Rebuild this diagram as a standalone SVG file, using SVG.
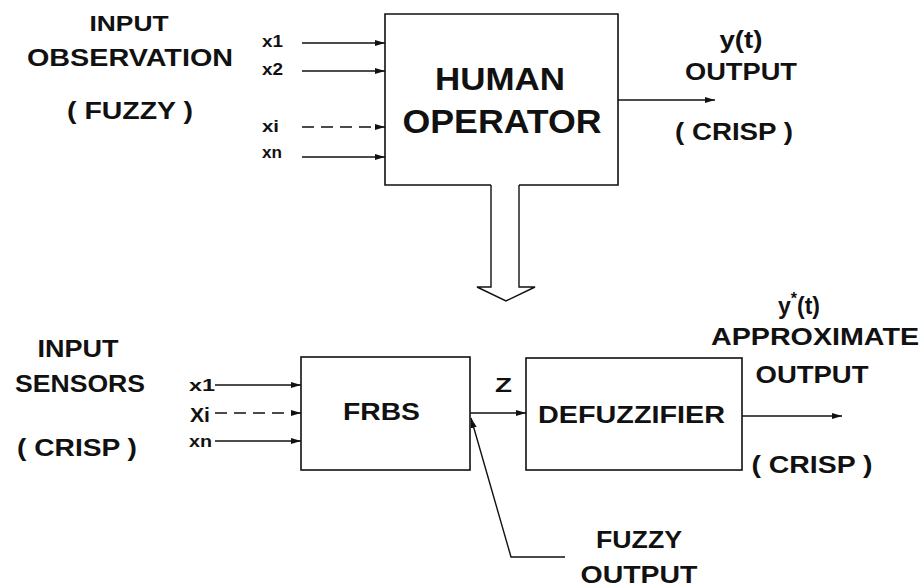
<svg xmlns="http://www.w3.org/2000/svg" width="923" height="588" viewBox="0 0 923 588">
<defs>
<marker id="ah" markerWidth="11" markerHeight="8" refX="10" refY="4" orient="auto" markerUnits="userSpaceOnUse">
<path d="M0,1 L10,4 L0,7 Z" fill="#111"/>
</marker>
<style>
.t{font-family:"Liberation Sans",Arial,sans-serif;font-weight:bold;fill:#111}
.box{fill:none;stroke:#111;stroke-width:1.6}
.ln{fill:none;stroke:#111;stroke-width:1.4}
.dash{stroke-dasharray:12,7}
</style>
</defs>
<rect width="923" height="588" fill="#fff"/>

<g id="top-input-label">
<text class="t" x="129" y="31" font-size="22" text-anchor="middle" textLength="79" lengthAdjust="spacingAndGlyphs">INPUT</text>
<text class="t" x="27" y="66" font-size="23" textLength="206" lengthAdjust="spacingAndGlyphs">OBSERVATION</text>
<text class="t" x="67" y="119" font-size="23" textLength="126" lengthAdjust="spacingAndGlyphs">( FUZZY )</text>
</g>

<g id="top-input-vars">
<text class="t" x="262" y="47" font-size="16" textLength="21" lengthAdjust="spacingAndGlyphs">x1</text>
<text class="t" x="262" y="75" font-size="16" textLength="21" lengthAdjust="spacingAndGlyphs">x2</text>
<text class="t" x="262" y="132" font-size="16" textLength="17" lengthAdjust="spacingAndGlyphs">xi</text>
<text class="t" x="262" y="158" font-size="16" textLength="20" lengthAdjust="spacingAndGlyphs">xn</text>
</g>

<g id="human-operator">
<path class="box" d="M491,185 H385 V14 H618 V185 H519"/>
<text class="t" x="500" y="90" font-size="32" text-anchor="middle" textLength="130" lengthAdjust="spacingAndGlyphs">HUMAN</text>
<text class="t" x="502" y="133" font-size="33" text-anchor="middle" textLength="199" lengthAdjust="spacingAndGlyphs">OPERATOR</text>
</g>

<g id="top-output-label">
<text class="t" x="741" y="48" font-size="23" text-anchor="middle" textLength="43" lengthAdjust="spacingAndGlyphs">y(t)</text>
<text class="t" x="741" y="80" font-size="23" text-anchor="middle" textLength="112" lengthAdjust="spacingAndGlyphs">OUTPUT</text>
<text class="t" x="734" y="140" font-size="23" text-anchor="middle" textLength="118" lengthAdjust="spacingAndGlyphs">( CRISP )</text>
</g>

<g id="bottom-input-label">
<text class="t" x="78" y="357" font-size="23" text-anchor="middle" textLength="81" lengthAdjust="spacingAndGlyphs">INPUT</text>
<text class="t" x="80" y="392" font-size="23" text-anchor="middle" textLength="130" lengthAdjust="spacingAndGlyphs">SENSORS</text>
<text class="t" x="77" y="456" font-size="23" text-anchor="middle" textLength="120" lengthAdjust="spacingAndGlyphs">( CRISP )</text>
</g>

<g id="bottom-input-vars">
<text class="t" x="189" y="391" font-size="16" textLength="26" lengthAdjust="spacingAndGlyphs">x1</text>
<text class="t" x="190" y="422" font-size="21" textLength="20" lengthAdjust="spacingAndGlyphs">Xi</text>
<text class="t" x="189" y="447" font-size="16" textLength="23" lengthAdjust="spacingAndGlyphs">xn</text>
</g>

<g id="frbs">
<rect class="box" x="301" y="357" width="169" height="113"/>
<text class="t" x="381.5" y="420" font-size="23" text-anchor="middle" textLength="77" lengthAdjust="spacingAndGlyphs">FRBS</text>
</g>

<g id="z-label">
<text class="t" x="503.5" y="392" font-size="21" text-anchor="middle" textLength="17" lengthAdjust="spacingAndGlyphs">Z</text>
</g>

<g id="defuzzifier">
<rect class="box" x="526" y="358" width="216" height="112"/>
<text class="t" x="631.5" y="423" font-size="23" text-anchor="middle" textLength="187" lengthAdjust="spacingAndGlyphs">DEFUZZIFIER</text>
</g>

<g id="bottom-output-label">
<text class="t" x="778" y="314" font-size="23">y<tspan font-size="16" dy="-10">*</tspan><tspan dy="10">(t)</tspan></text>
<text class="t" x="815" y="345" font-size="23" text-anchor="middle" textLength="208" lengthAdjust="spacingAndGlyphs">APPROXIMATE</text>
<text class="t" x="812" y="383" font-size="23" text-anchor="middle" textLength="113" lengthAdjust="spacingAndGlyphs">OUTPUT</text>
<text class="t" x="812" y="473" font-size="23" text-anchor="middle" textLength="121" lengthAdjust="spacingAndGlyphs">( CRISP )</text>
</g>

<g id="fuzzy-output-label">
<text class="t" x="639" y="548" font-size="24" text-anchor="middle" textLength="86" lengthAdjust="spacingAndGlyphs">FUZZY</text>
<text class="t" x="639" y="583" font-size="24" text-anchor="middle" textLength="117" lengthAdjust="spacingAndGlyphs">OUTPUT</text>
</g>

<g id="connectors">
<line class="ln" x1="302" y1="43" x2="385" y2="43" marker-end="url(#ah)"/>
<line class="ln" x1="302" y1="71" x2="385" y2="71" marker-end="url(#ah)"/>
<line class="ln dash" x1="302" y1="127" x2="385" y2="127" marker-end="url(#ah)"/>
<line class="ln" x1="302" y1="157" x2="385" y2="157" marker-end="url(#ah)"/>
<line class="ln" x1="618" y1="100" x2="715" y2="100" marker-end="url(#ah)"/>
<polyline class="ln" points="491,185 491,287 477,287 506,301 535,287 519,287 519,185"/>
<line class="ln" x1="215" y1="385" x2="301" y2="385" marker-end="url(#ah)"/>
<line class="ln dash" x1="215" y1="413" x2="301" y2="413" marker-end="url(#ah)"/>
<line class="ln" x1="215" y1="441" x2="301" y2="441" marker-end="url(#ah)"/>
<line class="ln" x1="470" y1="413" x2="526" y2="413" marker-end="url(#ah)"/>
<line class="ln" x1="742" y1="416" x2="842" y2="416" marker-end="url(#ah)"/>
<polyline class="ln" points="565,557 511,557 471,418" marker-end="url(#ah)"/>
</g>
</svg>
